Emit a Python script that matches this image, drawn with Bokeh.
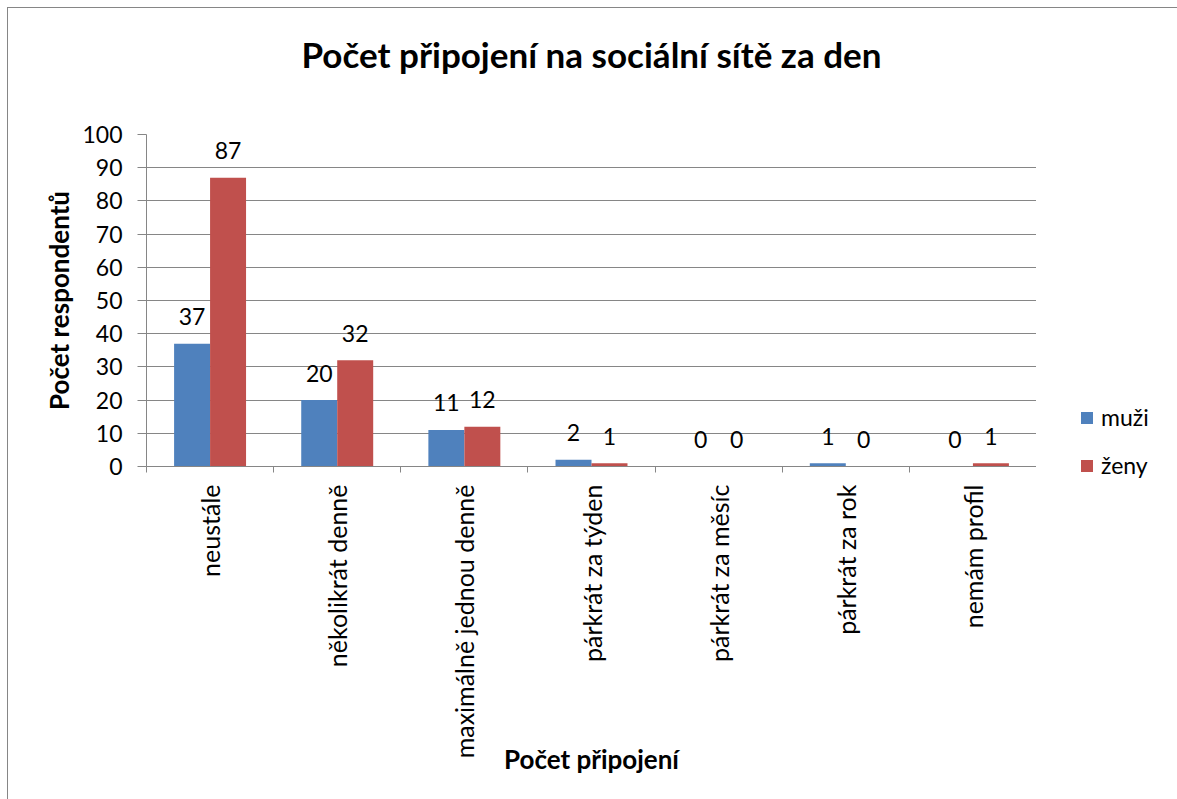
from math import pi
from bokeh.plotting import figure
from bokeh.layouts import row
from bokeh.models import ColumnDataSource, FixedTicker, Legend, LegendItem, Range1d
from bokeh.transform import dodge
from bokeh.core.properties import value
from bokeh.embed import file_html
from bokeh.resources import INLINE

categories = ["neustále", "několikrát denně", "maximálně jednou denně",
              "párkrát za týden", "párkrát za měsíc", "párkrát za rok", "nemám profil"]
muzi = [37, 20, 11, 2, 0, 1, 0]
zeny = [87, 32, 12, 1, 0, 0, 1]
y_ticks = [0, 10, 20, 30, 40, 50, 60, 70, 80, 90, 100]
series_names = ["muži", "ženy"]

FONT = "Lato"
GRAY = "#868686"
BLUE = "#4F81BD"
RED = "#C0504D"

xc = [i + 0.5 for i in range(len(categories))]
src = ColumnDataSource(dict(x=xc, muzi=muzi, zeny=zeny,
                            ml=[str(v) for v in muzi], zl=[str(v) for v in zeny]))

p = figure(width=1028, height=791, output_backend="svg", toolbar_location=None,
           x_range=Range1d(0, len(categories)), y_range=Range1d(0, 100),
           min_border_left=138, min_border_right=0, min_border_top=126, min_border_bottom=333)
p.frame_align = False
p.outline_line_color = None
p.background_fill_color = "white"
p.border_fill_color = "white"

bw = 0.283
off = bw / 2
p.vbar(x=dodge("x", -off), top="muzi", width=bw, source=src, fill_color=BLUE, line_color=None)
p.vbar(x=dodge("x", off), top="zeny", width=bw, source=src, fill_color=RED, line_color=None)

for col, lab, d in (("muzi", "ml", -off), ("zeny", "zl", off)):
    p.text(x=dodge("x", d), y=col, text=lab, source=src, text_align="center",
           text_baseline="alphabetic", y_offset=-27, text_font=value(FONT),
           text_font_size="23px", text_color="black")

# title
p.title.text = "Počet připojení na sociální sítě za den"
p.title.align = "center"
p.title.text_font = FONT
p.title.text_font_size = "35px"
p.title.text_font_style = "bold"
p.title.text_color = "black"
p.title.standoff = 10
p.title.padding = dict(top=0, right=0, bottom=55, left=0)

# y axis
ya = p.yaxis[0]
ya.ticker = FixedTicker(ticks=y_ticks)
ya.minor_tick_line_color = None
ya.major_tick_out = 9
ya.major_tick_in = 0
ya.major_tick_line_color = GRAY
ya.axis_line_color = GRAY
ya.major_label_standoff = 15
ya.major_label_text_font = FONT
ya.major_label_text_font_size = "23px"
ya.major_label_text_color = "black"
ya.axis_label = "Počet respondentů"
ya.axis_label_text_font = FONT
ya.axis_label_text_font_size = "26px"
ya.axis_label_text_font_style = "bold"
ya.axis_label_text_color = "black"
ya.axis_label_standoff = 4

p.ygrid.ticker = FixedTicker(ticks=y_ticks)
p.ygrid.grid_line_color = GRAY
p.xgrid.grid_line_color = None

# x axis
xa = p.xaxis[0]
xa.ticker = FixedTicker(ticks=xc, minor_ticks=list(range(len(categories) + 1)))
xa.major_label_overrides = {xc[i]: categories[i] for i in range(len(categories))}
xa.major_tick_line_color = None
xa.major_tick_out = 0
xa.major_tick_in = 0
xa.minor_tick_line_color = GRAY
xa.minor_tick_out = 6
xa.minor_tick_in = 0
xa.axis_line_color = GRAY
xa.major_label_orientation = pi / 2
xa.major_label_standoff = 12
xa.major_label_text_font = FONT
xa.major_label_text_font_size = "25px"
xa.major_label_text_color = "black"
xa.axis_label = "Počet připojení"
xa.axis_label_text_font = FONT
xa.axis_label_text_font_size = "26px"
xa.axis_label_text_font_style = "bold"
xa.axis_label_text_color = "black"
xa.axis_label_standoff = -18

# legend panel (right of the plot area); its bars lie below its visible y range
lp = figure(width=141, height=791, output_backend="svg", toolbar_location=None,
            x_range=Range1d(0, len(categories)), y_range=Range1d(1000, 1001),
            x_axis_type=None, y_axis_type=None,
            min_border_left=0, min_border_right=0, min_border_top=0, min_border_bottom=0)
lp.frame_align = False
lp.outline_line_color = None
lp.grid.visible = False
lp.background_fill_color = "white"
lp.border_fill_color = "white"
lr1 = lp.vbar(x="x", top="muzi", width=bw, source=src, fill_color=BLUE, line_color=None)
lr2 = lp.vbar(x="x", top="zeny", width=bw, source=src, fill_color=RED, line_color=None)
legend = Legend(items=[LegendItem(label=series_names[0], renderers=[lr1]),
                       LegendItem(label=series_names[1], renderers=[lr2])],
                location=(43, 320), orientation="vertical",
                glyph_width=15, glyph_height=15, label_standoff=7,
                label_height=25, spacing=20, padding=0, margin=0,
                border_line_color=None, background_fill_alpha=0,
                label_text_font=FONT, label_text_font_size="23px",
                label_text_color="black")
lp.add_layout(legend, "center")

layout = row(p, lp, styles={"margin-left": "7px", "margin-top": "7px",
                            "border-top": "1px solid #868686",
                            "border-left": "1px solid #868686"})

open("out.html", "w").write(file_html(layout, INLINE))
